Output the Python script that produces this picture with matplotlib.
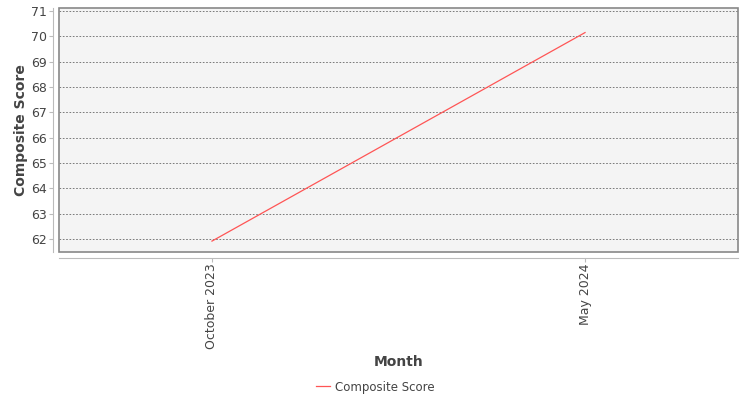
import matplotlib
matplotlib.use('Agg')
import matplotlib.pyplot as plt
from matplotlib.patches import Rectangle

# Datos del gráfico
meses = ['October 2023', 'May 2024']
puntaje = [61.92, 70.15]
marcas_y = [62, 63, 64, 65, 66, 67, 68, 69, 70, 71]

texto = '#444444'
gris = '#888888'

fig = plt.figure(figsize=(7.5, 4), dpi=100)
ax = fig.add_axes([59 / 750, 1 - 252 / 400, 679 / 750, 244 / 400])
ax.set_facecolor('#f4f4f4')

posiciones = list(range(len(meses)))
linea, = ax.plot(posiciones, puntaje, color='#ff5555', linewidth=0.9, label='Composite Score')

ax.set_xlim(-0.41, 1.41)
ax.set_ylim(61.49, 71.12)
ax.set_yticks(marcas_y)
ax.set_xticks(posiciones)
ax.set_xticklabels(meses)
ax.grid(axis='y', color='#666666', linestyle=(0, (2, 2)), linewidth=0.6)
ax.set_axisbelow(True)

# Borde del área del gráfico
for lado in ['top', 'right']:
    ax.spines[lado].set_visible(False)
ax.spines['left'].set_position(('outward', 4))
ax.spines['bottom'].set_position(('outward', 4))
ax.spines['left'].set_color('#bbbbbb')
ax.spines['bottom'].set_color('#bbbbbb')
ax.add_patch(Rectangle((0, 0), 1, 1, transform=ax.transAxes, fill=False,
                       edgecolor=gris, linewidth=1.2, zorder=5, clip_on=False))

ax.tick_params(axis='both', colors='#bbbbbb', labelcolor=texto, labelsize=9, length=3, width=0.8)
ax.tick_params(axis='y', pad=2)
ax.tick_params(axis='x', pad=1, labelrotation=90)

ax.set_ylabel('Composite Score', fontsize=10, fontweight='bold', color=texto, labelpad=2)
ax.set_xlabel('Month', fontsize=10, fontweight='bold', color=texto, labelpad=4.5)

fig.legend(handles=[linea], loc='center', bbox_to_anchor=(375 / 750, 1 - 387 / 400),
           frameon=False, fontsize=8.5, labelcolor=texto, handlelength=1.2, handletextpad=0.4)

fig.savefig('out.png', dpi=100)
